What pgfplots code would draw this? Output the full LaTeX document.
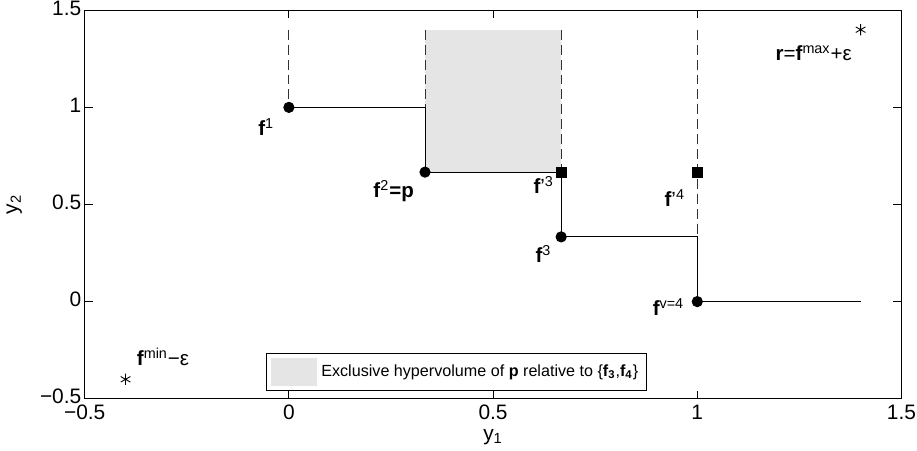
\documentclass[border=0pt]{standalone}
\usepackage{fontspec}
\setmainfont{Liberation Sans}
\usepackage{pgfplots}
\pgfplotsset{compat=1.18}

\begin{document}
\begin{tikzpicture}
\begin{axis}[
  scale only axis,
  width=410pt, height=195pt,
  xmin=-0.5, xmax=1.5, ymin=-0.5, ymax=1.5,
  xtick={-0.5,0,0.5,1,1.5}, xticklabels={−0.5,0,0.5,1,1.5},
  ytick={-0.5,0,0.5,1,1.5}, yticklabels={−0.5,0,0.5,1,1.5},
  tick align=inside, major tick length=4pt,
  tick style={black, line width=0.4pt},
  tick label style={font=\fontsize{10.5}{12}\selectfont, inner sep=0.5pt},
  xticklabel style={yshift=-2.5pt},
  yticklabel style={xshift=-1pt, yshift=1pt},
  label style={font=\fontsize{10.5}{12}\selectfont},
  xlabel={y\textsubscript{1}}, ylabel={y\textsubscript{2}},
  xlabel style={yshift=-0.5pt}, ylabel style={yshift=5pt},
  axis line style={line width=0.6pt},
  legend style={at={(0.455,0.021)}, anchor=south, draw=black, line width=0.5pt,
    font=\fontsize{8.1}{10}\selectfont, inner sep=2.2pt},
  legend cell align=left,
  clip=false,
]
% dominated region exclusive to p
\addplot[fill=black!10, draw=none, area legend,
  legend image code/.code={\fill[black!10] (0pt,-7pt) rectangle (23.5pt,7pt);}]
  coordinates {(0.3333,0.6667) (0.6667,0.6667) (0.6667,1.4) (0.3333,1.4)} -- cycle;
\addlegendentry{Exclusive hypervolume of \textbf{p} relative to \{\textbf{f\textsubscript{3}},\textbf{f\textsubscript{4}}\}}

% dashed bounds
\addplot[black!80, line width=0.5pt, dash pattern=on 5pt off 2.5pt, forget plot] coordinates {(0,1.4) (0,1)};
\addplot[black!80, line width=0.5pt, dash pattern=on 5pt off 2.5pt, forget plot] coordinates {(0.3333,1.4) (0.3333,1)};
\addplot[black!80, line width=0.5pt, dash pattern=on 5pt off 2.5pt, forget plot] coordinates {(0.6667,1.4) (0.6667,0.6667)};
\addplot[black!80, line width=0.5pt, dash pattern=on 5pt off 2.5pt, forget plot] coordinates {(1,1.4) (1,0)};

% attainment steps
\addplot[black, line width=0.45pt, forget plot] coordinates {
  (0,1) (0.3333,1) (0.3333,0.6667) (0.6667,0.6667) (0.6667,0.3333)
  (1,0.3333) (1,0) (1.4,0)};

% points
\addplot[only marks, mark=*, mark size=2.6pt, black, forget plot] coordinates {
  (0,1) (0.3333,0.6667) (0.6667,0.3333) (1,0)};
\addplot[only marks, mark=square*, mark size=2.6pt, black, forget plot] coordinates {
  (0.6667,0.6667) (1,0.6667)};
\addplot[only marks, mark=asterisk, mark size=2.8pt, black, line width=0.45pt, forget plot] coordinates {
  (-0.4,-0.4) (1.4,1.4)};

% labels
\begin{scope}[every node/.style={anchor=base west, inner sep=0pt, font=\fontsize{10.3}{12}\selectfont}]
\node at (axis cs:-0.076,0.856) {\textbf{f}\textsuperscript{1}};
\node at (axis cs:0.206,0.536) {\textbf{f}\textsuperscript{2}\textbf{=p}};
\node at (axis cs:0.598,0.557) {\textbf{f}’\textsuperscript{3}};
\node at (axis cs:0.919,0.490) {\textbf{f}’\textsuperscript{4}};
\node at (axis cs:0.603,0.201) {\textbf{f}\textsuperscript{3}};
\node at (axis cs:0.890,-0.072) {\textbf{f}\textsuperscript{v=4}};
\node at (axis cs:1.191,1.242) {\textbf{r}=\textbf{f}\textsuperscript{max}+ε};
\node at (axis cs:-0.373,-0.330) {\textbf{f}\textsuperscript{min}−ε};
\end{scope}
\end{axis}
\end{tikzpicture}
\end{document}
